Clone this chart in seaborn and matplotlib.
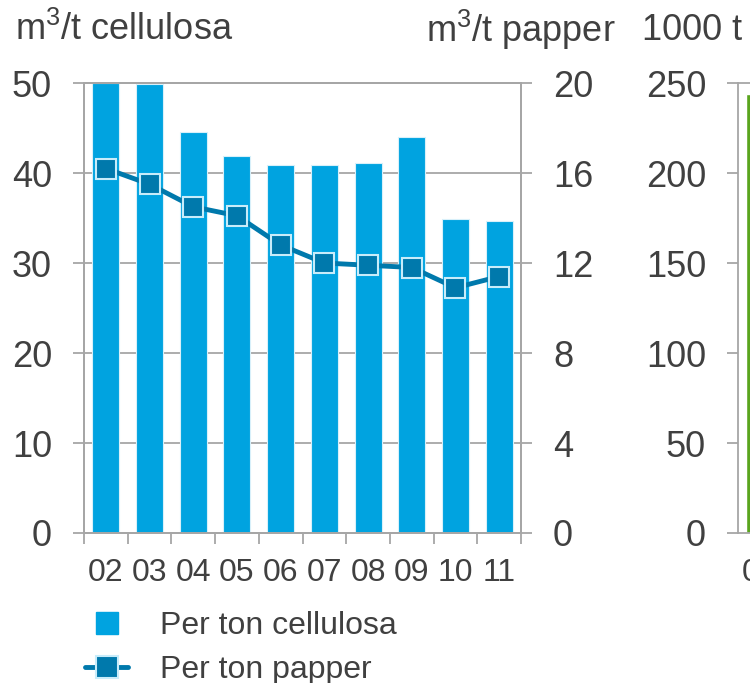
import numpy as np
import pandas as pd
import seaborn as sns
import matplotlib.pyplot as plt
from matplotlib.lines import Line2D

# Data
years = ['02', '03', '04', '05', '06', '07', '08', '09', '10', '11']
per_ton_cellulosa = [50.0, 49.9, 44.6, 41.9, 40.9, 40.9, 41.1, 44.0, 34.9, 34.7]
per_ton_papper = [16.2, 15.5, 14.5, 14.1, 12.8, 12.0, 11.9, 11.8, 10.9, 11.4]
right_years = ['02']
right_values = [244]

sns.set_theme(style='white')
plt.rcParams['font.family'] = ['Liberation Sans', 'DejaVu Sans']
plt.rcParams['mathtext.fontset'] = 'custom'
plt.rcParams['mathtext.rm'] = 'Liberation Sans'

bar_blue = '#00A3E0'
line_blue = '#0079AC'
grid_gray = '#A6A6A6'
text_gray = '#404040'
green = '#5AA51E'

ytick_size = 26
xtick_size = 23

df = pd.DataFrame({'year': years, 'cellulosa': per_ton_cellulosa, 'papper': per_ton_papper})

fig = plt.figure(figsize=(7.5, 6.83), dpi=100)
ax = fig.add_axes([84 / 750, 1 - 533 / 683, 437 / 750, 450 / 683])

sns.barplot(data=df, x='year', y='cellulosa', color=bar_blue, saturation=1,
            width=0.62, edgecolor='#D8F0FA', linewidth=0.8, ax=ax, zorder=2)
ax.set_ylim(0, 50)
ax.set_xlim(-0.5, 9.5)
ax.set_yticks(np.arange(0, 51, 10))
for v in [10, 20, 30, 40]:
    ax.axhline(v, color=grid_gray, lw=1.3, zorder=1)

ax2 = ax.twinx()
sns.lineplot(x=np.arange(len(years)), y=per_ton_papper, color=line_blue, lw=3.5,
             marker='s', markersize=14.5, markerfacecolor=line_blue,
             markeredgecolor='#C8ECFA', markeredgewidth=1.5, ax=ax2, zorder=3)
ax2.set_ylim(0, 20)
ax2.set_yticks(np.arange(0, 21, 4))

for a in (ax, ax2):
    for s in a.spines.values():
        s.set_color(grid_gray)
        s.set_linewidth(1.3)
    a.set_xlabel('')
    a.set_ylabel('')
    a.tick_params(axis='both', colors=grid_gray, labelcolor=text_gray,
                  length=8, width=1.3, direction='out')
    a.tick_params(axis='y', labelsize=ytick_size, pad=15)

ax.tick_params(axis='y', left=True)
ax2.tick_params(axis='y', right=True)
ax.set_xticks(np.arange(len(years)))
ax.set_xticklabels(years)
ax.tick_params(axis='x', bottom=False, labelsize=xtick_size, pad=10)
ax.set_xticks(np.arange(-0.5, 10, 1), minor=True)
ax.tick_params(axis='x', which='minor', bottom=True, length=8, width=1.3, colors=grid_gray)

# Partially visible right panel
ax3 = fig.add_axes([738 / 750, 1 - 533 / 683, 437 / 750, 450 / 683])
rdf = pd.DataFrame({'year': right_years, 'value': right_values})
sns.barplot(data=rdf, x='year', y='value', color=green, saturation=1,
            width=0.62, ax=ax3)
ax3.set_xlim(-0.5, 9.5)
ax3.set_ylim(0, 250)
ax3.set_yticks(np.arange(0, 251, 50))
for s in ax3.spines.values():
    s.set_color(grid_gray)
    s.set_linewidth(1.3)
ax3.set_xlabel('')
ax3.set_ylabel('')
ax3.tick_params(axis='both', colors=grid_gray, labelcolor=text_gray,
                length=8, width=1.3, direction='out')
ax3.tick_params(axis='y', left=True, labelsize=ytick_size, pad=15)
ax3.tick_params(axis='x', bottom=False, labelsize=xtick_size, pad=10)

# Axis titles
title_y = 1 - 30 / 683
fig.text(15 / 750, title_y, 'm$^3$/t cellulosa', fontsize=26, color=text_gray,
         ha='left', va='center')
fig.text(616 / 750, title_y, 'm$^3$/t papper', fontsize=26, color=text_gray,
         ha='right', va='center')
fig.text(642 / 750, title_y, '1000 t', fontsize=26, color=text_gray,
         ha='left', va='center')

# Legend
handles = [
    Line2D([], [], linestyle='none', marker='s', markersize=16,
           markerfacecolor=bar_blue, markeredgecolor=bar_blue),
    Line2D([], [], color=line_blue, lw=3.5, marker='s', markersize=15.5,
           markerfacecolor=line_blue, markeredgecolor='#C8ECFA', markeredgewidth=1.5),
]
fig.legend(handles, ['Per ton cellulosa', 'Per ton papper'], loc='upper left',
           bbox_to_anchor=(85 / 750, 1 - 611 / 683), frameon=False, fontsize=23,
           labelcolor=text_gray, handlelength=1.35, handletextpad=1.0,
           labelspacing=0.45, borderaxespad=0, borderpad=0)

fig.savefig('out.png', dpi=100)
